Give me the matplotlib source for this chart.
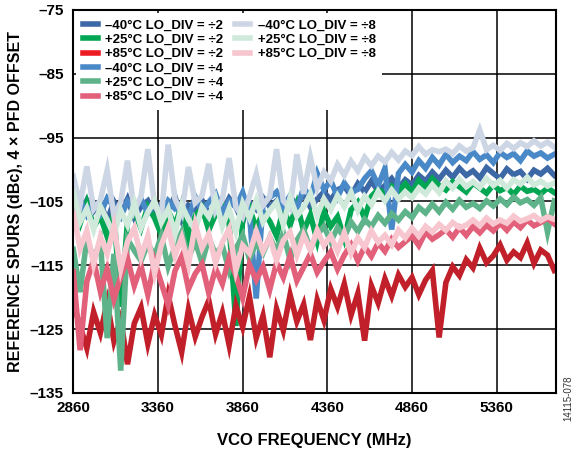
import numpy as np
import matplotlib
matplotlib.use("Agg")
import matplotlib.pyplot as plt
from matplotlib.lines import Line2D

plt.rcParams['font.family'] = ['Liberation Sans', 'DejaVu Sans']

# ---- data (40 MHz steps) ----
FREQ = np.arange(2860, 5701, 40)

DIV2_M40 = [-105.5, -107, -104.8, -106.5, -105.2, -108, -105, -106.8, -104.6, -107.5,
            -105.8, -104.9, -107.2, -105.5, -106.3, -104.2, -107.8, -105.6, -106.4, -104.8,
            -107, -105.2, -106.6, -104.5, -105.9, -108.2, -105.1, -106.2, -104.4, -105.8,
            -104.9, -106.7, -104.3, -105.5, -103.8, -105.9, -104.6, -103.5,
            -104.8, -103.2, -102.6, -104.1, -102.2, -103.5, -101.8, -103.4, -102.5, -101.4, -102.9,
            -101.6, -102.4, -100.9, -101.8, -100.4, -101.5, -100.1, -101.2, -99.8, -100.9, -100.2,
            -101.3, -99.7, -100.6, -101.4, -99.9, -100.8, -100.3, -101.5, -100.1, -100.7, -99.8, -100.9]
DIV2_P25 = [-106, -108.5, -105.2, -109, -107.3, -110.5, -106.8, -121.5, -108.2, -106.5,
            -109.2, -105.8, -107.6, -110.2, -106.4, -108.8, -105.5, -111, -107.2, -106,
            -109.5, -107, -105.6, -108.4, -124.5, -107.8, -105.9, -109.3, -106.6, -108.1,
            -110.4, -106.2, -108.7, -105.4, -109.6, -107.1, -111.2, -106.5,
            -108.9, -107.4, -110.8, -106.3, -105.1, -107.6, -104.2, -103.1, -103.8, -102.6, -103.4,
            -102.2, -103.6, -101.7, -102.8, -101.4, -102.5, -103.2, -101.9, -102.7, -103.5, -102.1,
            -102.9, -103.7, -102.4, -103.3, -102.8, -103.9, -102.6, -103.4, -103.1, -103.8, -102.9, -103.6]
DIV2_P85 = [-121, -124.5, -128, -122.3, -125.6, -120.8, -126.9, -123.4, -130.5, -124.1,
            -121.6, -127.3, -122.8, -125.9, -119.7, -124.4, -128.6, -121.9, -126.2, -123.1,
            -120.5, -125.8, -122.4, -127.5, -121.3, -124.7, -119.9, -126.4, -122.9, -129.4,
            -121.8, -125.2, -119.6, -123.8, -121.1, -126.7, -120.4, -123.6,
            -118.7, -121.5, -117.9, -122.8, -119.4, -126.8, -118.2, -120.9, -117.1, -119.8, -116.5,
            -118.4, -116.9, -119.6, -117.3, -115.8, -126.3, -117.7, -115.2, -116.6, -114.1, -115.4,
            -112.3, -114.6, -113.5, -111.8, -114.2, -112.9, -113.8, -111.5, -114.7, -112.6, -113.4, -115.8]
DIV4_M40 = [-106.2, -104.8, -107.1, -105.3, -106.9, -104.5, -105.8, -107.4, -105, -106.3,
            -104.6, -106.8, -105.4, -107.2, -104.9, -106.1, -105.2, -107.6, -104.3, -106.5,
            -105.1, -103.8, -106.7, -104.9, -105.9, -103.6, -107, -120.2, -105.3, -104.4,
            -103.5, -105.8, -104.1, -106.2, -102.8, -104.5, -100.6, -103.2,
            -101.7, -104.3, -102.1, -103.6, -103.1, -101.4, -100.2, -102.5, -99.8, -109.4, -100.6,
            -99.2, -100.4, -98.6, -99.8, -98.1, -99.3, -97.6, -98.9, -97.9, -98.6, -97.2,
            -98.4, -97.7, -98.9, -97.3, -98.1, -97.5, -98.6, -97.1, -97.9, -97.4, -98.2, -97.6]
DIV4_P25 = [-112.5, -119.2, -110.8, -114.1, -111.3, -126.4, -113.2, -131.5, -110.9, -112.7,
            -114.3, -111.6, -113.5, -110.4, -115.2, -112.1, -109.8, -113.9, -111.2, -114.6,
            -110.7, -113.3, -111.9, -115.8, -112.4, -110.3, -114, -111.5, -113.1, -110.6,
            -112.8, -109.9, -114.2, -111.1, -109.4, -112.5, -110.2, -108.9,
            -111.3, -109.1, -110.6, -108.2, -109.7, -107.8, -108.9, -107.2, -108.4, -106.9, -107.9,
            -106.6, -107.5, -105.9, -106.8, -105.4, -106.6, -105.1, -106.2, -104.8, -105.9, -105.3,
            -106.1, -104.9, -105.7, -104.6, -105.5, -104.3, -105.2, -104.7, -105.6, -104.4, -109.8, -104.9]
DIV4_P85 = [-116, -128.3, -117.5, -114.2, -119.1, -115.6, -120.3, -116.8, -113.9, -118.2,
            -115.1, -119.6, -114.4, -117.8, -121.2, -115.9, -113.6, -118.7, -116.3, -114.8,
            -119.4, -115.5, -117.9, -113.8, -116.6, -120.1, -114.9, -117.3, -115.2, -118.8,
            -114.6, -116.9, -113.5, -117.4, -115.3, -113.2, -116.1, -114.4,
            -112.9, -115.6, -113.4, -111.8, -114.3, -112.1, -113.6, -111.5, -112.8, -110.9, -112.2,
            -111.3, -110.4, -111.9, -109.8, -110.9, -110.2, -109.4, -110.6, -109.1, -110.3, -108.9,
            -109.9, -108.7, -109.6, -108.4, -109.5, -108.2, -109.1, -107.9, -108.8, -108.3, -107.6, -108.5]
DIV8_M40 = [-101, -105.5, -99.5, -106.2, -104.8, -100.1, -107.3, -105.1, -98.6, -106.4,
            -104.2, -96.8, -105.7, -107.1, -96.1, -104.6, -106.8, -99.6, -105.2, -104.1,
            -99.1, -106.5, -104.7, -98.2, -105.9, -107.4, -104.3, -100.7, -105.6, -104.2,
            -96.8, -104.9, -106.1, -97.6, -103.8, -98.1, -102.9, -100.4,
            -101.8, -99.2, -100.9, -98.7, -100.2, -98.1, -99.4, -97.9, -98.8, -97.3, -98.5,
            -97.1, -97.8, -96.4, -97.6, -96.9, -97.2, -96.8, -97.5, -96.3, -97.1, -96.6,
            -93.8, -96.9, -96.2, -97, -95.9, -96.7, -95.8, -96.4, -95.5, -96.3, -95.7, -96.5]
DIV8_P25 = [-103.5, -108.2, -106.1, -109.4, -105.8, -107.9, -110.3, -106.4, -108.7, -105.2,
            -109.1, -106.7, -104.9, -108.3, -106.2, -110.1, -105.6, -107.8, -109.5, -105.9,
            -107.4, -104.6, -108.9, -106.1, -109.7, -105.3, -107.6, -104.8, -108.2, -106.4,
            -105.1, -108.6, -104.4, -107.3, -105.9, -103.8, -107.2, -104.6,
            -106.3, -104.1, -105.8, -103.6, -106.4, -104.2, -105.5, -103.4, -104.9, -103.2, -104.6,
            -103.5, -104.4, -102.9, -103.8, -102.4, -103.6, -101.8, -102.9, -101.5, -102.7, -101.9,
            -102.8, -101.4, -102.5, -101.7, -102.9, -101.6, -102.3, -101.2, -102.4, -101.8, -102.6, -102.1]
DIV8_P85 = [-106.8, -112.4, -109.6, -114.8, -110.5, -113.2, -108.9, -115.6, -111.3, -109.2,
            -113.7, -110.4, -116.2, -111.8, -109.1, -113.5, -110.7, -114.9, -108.6, -112.3,
            -110.1, -114.6, -111.4, -109.3, -115.8, -111.9, -113.1, -109.7, -112.8, -110.6,
            -114.2, -111.1, -109.8, -113.4, -110.3, -112.6, -109.5, -111.9,
            -110.4, -112.8, -109.9, -113.1, -110.7, -112.2, -109.6, -111.4, -110.3, -111.8, -109.5,
            -110.7, -109.2, -110.4, -108.9, -109.8, -108.6, -109.5, -108.3, -109.1, -108.7, -107.9,
            -108.8, -107.6, -108.5, -107.9, -108.4, -107.3, -108.1, -107.7, -107.2, -108, -107.4, -107.8]

LABELS = ["\u201340\u00b0C LO_DIV = \u00f72", "+25\u00b0C LO_DIV = \u00f72", "+85\u00b0C LO_DIV = \u00f72",
          "\u201340\u00b0C LO_DIV = \u00f74", "+25\u00b0C LO_DIV = \u00f74", "+85\u00b0C LO_DIV = \u00f74",
          "\u201340\u00b0C LO_DIV = \u00f78", "+25\u00b0C LO_DIV = \u00f78", "+85\u00b0C LO_DIV = \u00f78"]
SERIES = [DIV2_M40, DIV2_P25, DIV2_P85, DIV4_M40, DIV4_P25, DIV4_P85, DIV8_M40, DIV8_P25, DIV8_P85]
LINE_COLORS = ['#3d68a6', '#00a651', '#c1202a', '#4a89c8', '#5fb38a', '#e2607a',
               '#cdd6e5', '#cfe9da', '#f7c6cf']
LEGEND_COLORS = ['#3d68a6', '#00a651', '#ed1c24', '#4a89c8', '#5fb38a', '#e2607a',
                 '#cdd6e5', '#cfe9da', '#f7c6cf']

X_TICKS = [2860, 3360, 3860, 4360, 4860, 5360]
Y_TICKS = [-135, -125, -115, -105, -95, -85, -75]

# ---- plot ----
fig = plt.figure(figsize=(5.85, 4.5), dpi=100)
ax = fig.add_axes([0.1253, 0.1267, 0.8251, 0.8511])

for vals, c in zip(SERIES, LINE_COLORS):
    ax.plot(FREQ, vals, color=c, lw=4, solid_joinstyle='miter', zorder=3)

ax.set_xlim(2860, 5710)
ax.set_ylim(-135, -75)
ax.set_xticks(X_TICKS)
ax.set_yticks(Y_TICKS)
ax.set_xticklabels([str(v) for v in X_TICKS], fontweight='bold', fontsize=11)
ax.set_yticklabels([f"\u2013{abs(v)}" for v in Y_TICKS], fontweight='bold', fontsize=11)
ax.tick_params(axis='y', length=0, pad=7)
ax.tick_params(axis='x', length=0, pad=6)
ax.grid(True, color='black', lw=1.1, zorder=1)
ax.set_axisbelow(True)
for s in ax.spines.values():
    s.set_linewidth(1.5)
    s.set_zorder(5)

ax.set_xlabel("VCO FREQUENCY (MHz)", fontweight='bold', fontsize=12, labelpad=13)
ax.set_ylabel("REFERENCE SPURS (dBc), 4 \u00d7 PFD OFFSET", fontweight='bold', fontsize=11.5, labelpad=5)

# legend: 6 entries in the first column, 3 in the second
handles = [Line2D([], [], color=c, lw=4) for c in LEGEND_COLORS]
labels = list(LABELS)
for _ in range(3):
    handles.append(Line2D([], [], color='none'))
    labels.append('')
leg = ax.legend(handles, labels, loc='upper left', ncol=2, bbox_to_anchor=(0.0, 1.0),
                prop={'weight': 'bold', 'size': 9.5}, frameon=True, fancybox=False,
                framealpha=1, edgecolor='none', facecolor='white',
                handlelength=1.15, handletextpad=0.55, labelspacing=0.16,
                columnspacing=0.9, borderpad=0.5, borderaxespad=0.2)
leg.set_zorder(6)

fig.text(0.972, 0.065, "14115-078", rotation=90, fontsize=7, color='#333333',
         ha='center', va='bottom')

fig.savefig("out.png", dpi=100)
